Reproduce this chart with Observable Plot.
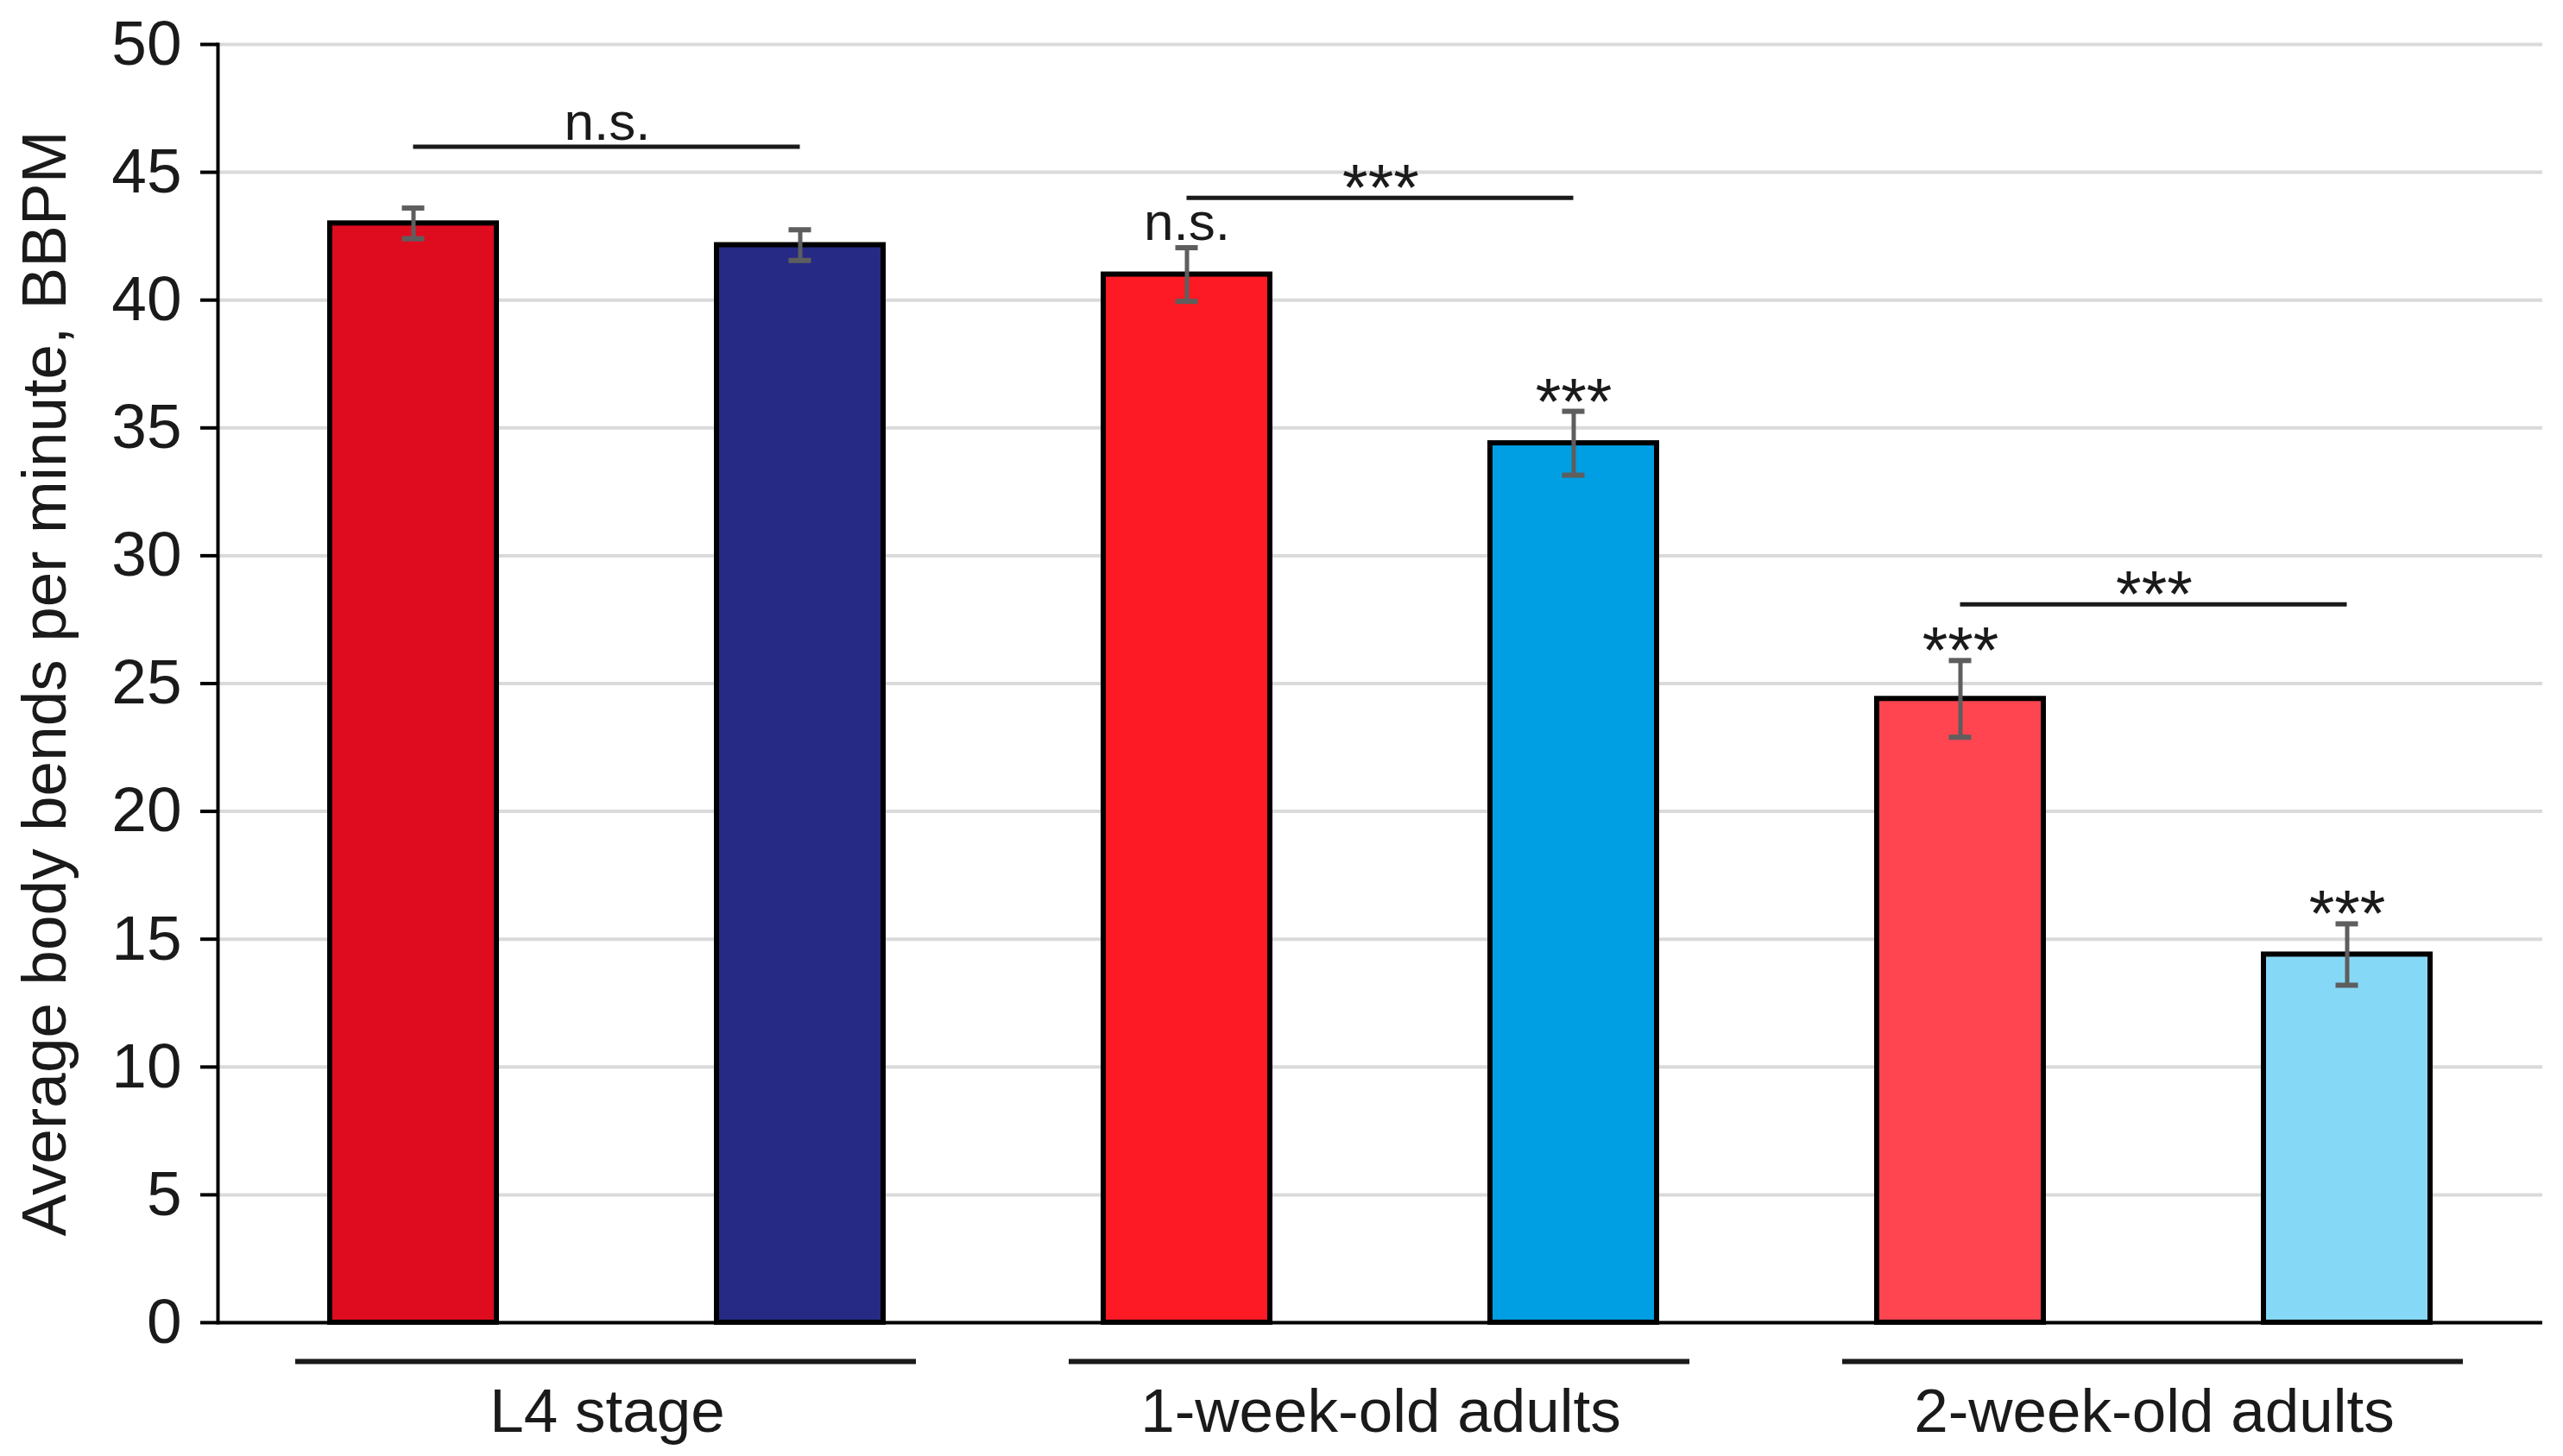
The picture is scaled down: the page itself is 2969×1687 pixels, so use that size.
<!DOCTYPE html>
<html>
<head>
<meta charset="utf-8">
<script src="https://cdn.jsdelivr.net/npm/d3@7"></script>
<script src="https://cdn.jsdelivr.net/npm/@observablehq/plot@0.6"></script>
<style>
  html, body { margin: 0; padding: 0; background: #fff; overflow: hidden; }
  #chart svg { display: block; }
</style>
</head>
<body>
<div id="chart"></div>
<script>
// ---- data ----
const groups = ["L4 stage", "1-week-old adults", "2-week-old adults"];
const barIds = ["L4 stage – A", "L4 stage – B", "1-week – A", "1-week – B", "2-week – A", "2-week – B"];
const barGroup = [0, 0, 1, 1, 2, 2];
const means = [43.0, 42.15, 41.0, 34.4, 24.4, 14.4];
const errs = [0.6, 0.6, 1.05, 1.25, 1.5, 1.2];
const barSig = ["", "", "n.s.", "***", "***", "***"];
const bracketFrom = [0, 2, 4];
const bracketTo = [1, 3, 5];
const bracketLabels = ["n.s.", "***", "***"];
const bracketLevels = [46.0, 44.0, 28.1];
const yTicks = [0, 5, 10, 15, 20, 25, 30, 35, 40, 45, 50];
const yLabel = "Average body bends per minute, BBPM";
const palette = ["#DF0C1F", "#262A84", "#FE1A25", "#009FE3", "#FE4550", "#86D9F6"];

// ---- layout ----
const W = 2969, H = 1687;
const mL = 252, mR = 24, mT = 51, mB = 155;
const pIn = 0.57, pOut = 0.285;
const band = d3.scaleBand().domain(barIds).range([mL, W - mR]).paddingInner(pIn).paddingOuter(pOut);
const bw = band.bandwidth(), step = band.step();

const bars = barIds.map((id, i) => ({
  id, mean: means[i], lo: means[i] - errs[i], hi: means[i] + errs[i],
  sig: barSig[i], color: palette[i]
}));
const groupRows = groups.map((name, g) => {
  const idx = barGroup.map((gg, i) => gg === g ? i : -1).filter(i => i >= 0);
  return { name, first: barIds[idx[0]], last: barIds[idx[idx.length - 1]] };
});
const brackets = bracketFrom.map((f, k) => ({
  left: barIds[f], right: barIds[bracketTo[k]], label: bracketLabels[k], level: bracketLevels[k]
}));

const ink = "#1a1a1a";
const errColor = "#5e5e5e";

const chart = Plot.plot({
  width: W, height: H,
  marginLeft: mL, marginRight: mR, marginTop: mT, marginBottom: mB,
  style: { fontFamily: "'Liberation Sans', Arial, sans-serif", color: ink, background: "#fff" },
  x: { domain: barIds, paddingInner: pIn, paddingOuter: pOut, axis: null },
  y: { domain: [0, 50], axis: null },
  color: { type: "identity" },
  marks: [
    Plot.gridY(yTicks, { stroke: "#dadada", strokeOpacity: 1, strokeWidth: 4 }),
    Plot.barY(bars, { x: "id", y: "mean", fill: "color", stroke: "#000", strokeWidth: 6 }),
    Plot.ruleX(bars, { x: "id", y1: "lo", y2: "hi", stroke: errColor, strokeWidth: 5 }),
    Plot.tickY(bars, { x: "id", y: "hi", stroke: errColor, strokeWidth: 6, inset: (bw - 26) / 2 }),
    Plot.tickY(bars, { x: "id", y: "lo", stroke: errColor, strokeWidth: 6, inset: (bw - 26) / 2 }),
    Plot.ruleY([0], { stroke: "#000", strokeWidth: 4 }),
    Plot.frame({ anchor: "left", stroke: "#000", strokeWidth: 4 }),
    Plot.axisY(yTicks, {
      tickSize: 20, tickPadding: 22, fontSize: 73, strokeWidth: 4, stroke: "#000",
      fill: ink, label: null
    }),
    Plot.text([yLabel], {
      text: d => d, frameAnchor: "left", textAnchor: "middle", lineAnchor: "middle",
      dx: -200, rotate: -90, fontSize: 73, fill: ink
    }),
    // group underlines and labels
    Plot.ruleY(groupRows, {
      x1: "first", x2: "last", y: 0, dy: 45, insetLeft: -40, insetRight: -38,
      stroke: ink, strokeWidth: 6
    }),
    Plot.text(groupRows, {
      x: "first", y: 0, text: "name", dx: step / 2, dy: 126, lineAnchor: "bottom",
      fontSize: 71, fill: ink
    }),
    // significance brackets
    Plot.ruleY(brackets, {
      x1: "left", x2: "right", y: "level", insetLeft: bw / 2, insetRight: bw / 2,
      stroke: ink, strokeWidth: 5
    }),
    Plot.text(brackets.filter(d => d.label === "n.s."), {
      x: "left", y: "level", text: "label", dx: step / 2, dy: -8, lineAnchor: "bottom",
      fontSize: 62, fill: ink
    }),
    Plot.text(brackets.filter(d => d.label === "***"), {
      x: "left", y: "level", text: "label", dx: step / 2, dy: 14, lineAnchor: "bottom",
      fontSize: 76, fill: ink
    }),
    // per-bar significance
    Plot.text(bars.filter(d => d.sig === "n.s."), {
      x: "id", y: "hi", text: "sig", dy: -9, lineAnchor: "bottom", fontSize: 62, fill: ink
    }),
    Plot.text(bars.filter(d => d.sig === "***"), {
      x: "id", y: "hi", text: "sig", dy: 14, lineAnchor: "bottom", fontSize: 76, fill: ink
    })
  ]
});
document.getElementById("chart").appendChild(chart);
</script>
</body>
</html>
